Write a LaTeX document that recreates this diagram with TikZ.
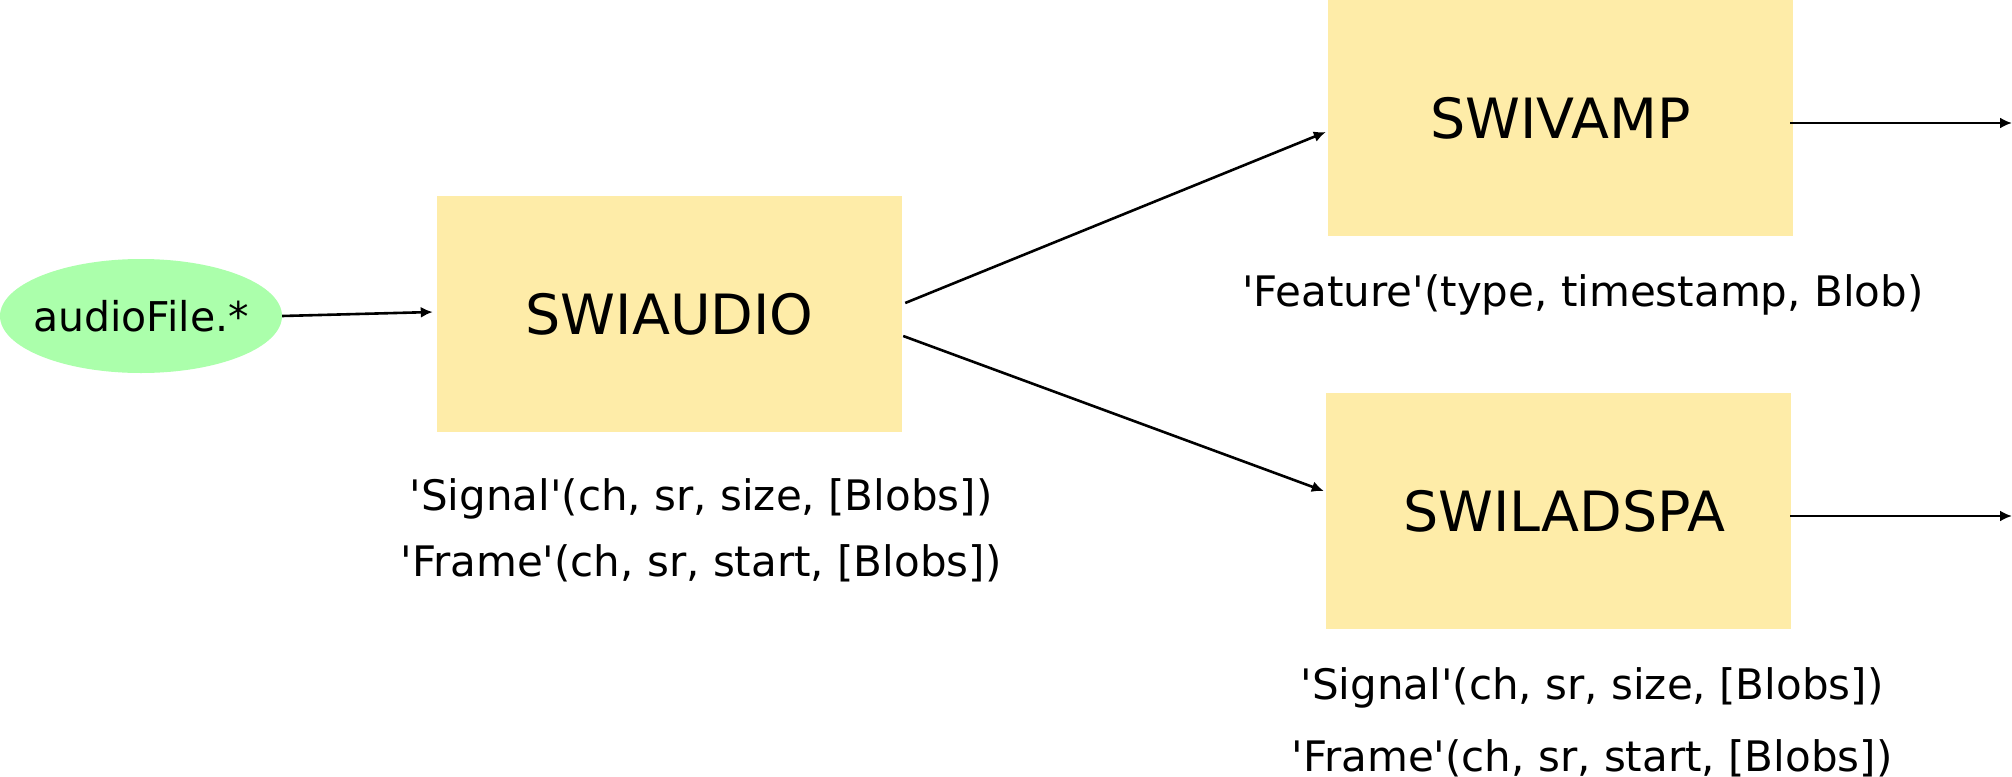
\documentclass[tikz,border=0pt]{standalone}
\usepackage{fontspec}
\setmainfont{DejaVu Sans}
\usepackage{tikz}
\usetikzlibrary{calc}
\usetikzlibrary{arrows.meta}
\usetikzlibrary{shapes.geometric}

\definecolor{boxyellow}{HTML}{FEECA8}
\definecolor{filegreen}{HTML}{ABFFAB}
\newcommand{\q}{\textquotesingle}

\begin{document}
\begin{tikzpicture} [x=1pt, y=-1pt,
  plugin/.style={rectangle, fill=boxyellow, inner sep=0, minimum width=465pt, minimum height=236pt, font=\fontsize{55.5}{66}\selectfont},
  msg/.style={inner sep=0, font=\fontsize{42}{50}\selectfont},
  flow/.style={line width=2.6pt, -{Latex[length=12pt, width=11pt]}}]
\useasboundingbox (0,0) rectangle (2012,776);

\node[ellipse, fill=filegreen, inner sep=0, minimum width=282pt, minimum height=114pt] (audiofile) at (141,316) {};
\node[inner sep=0, font=\fontsize{41}{49}\selectfont] (audioname) at (audiofile.center) {audioFile.*};

\node[plugin] (swiaudio) at (669.5,314) {SWIAUDIO};
\node[plugin] (swivamp) at (1560.5,118) {SWIVAMP};
\node[plugin] (swiladspa) at (1558.5,511) {\hspace{12pt}SWILADSPA};

\node[msg] (audiosignal) at (701,499) {\q Signal\q(ch, sr, size, [Blobs])};
\node[msg] (audioframe) at (701,563) {\q Frame\q(ch, sr, start, [Blobs])};
\node[msg] (vampfeature) at (1583,295) {\q Feature\q(type, timestamp, Blob)};
\node[msg] (ladspasignal) at (1592,688) {\q Signal\q(ch, sr, size, [Blobs])};
\node[msg] (ladspaframe) at (1592,758) {\q Frame\q(ch, sr, start, [Blobs])};

\coordinate (vampout) at (2012,123);
\coordinate (ladspaout) at (2012,516);

\draw[flow] (audiofile.east) -- ($ (swiaudio.west) +(-4,-2) $);
\draw[flow] ($ (swiaudio.east) +(3,-11) $) -- ($ (swivamp.west) +(-2,14) $);
\draw[flow] ($ (swiaudio.east) +(1,22) $) -- ($ (swiladspa.west) +(-2,-20) $);
\draw[flow] ($ (swivamp.east) +(-3,5) $) -- (vampout);
\draw[flow] ($ (swiladspa.east) +(-1,5) $) -- (ladspaout);

\end{tikzpicture}
\end{document}
